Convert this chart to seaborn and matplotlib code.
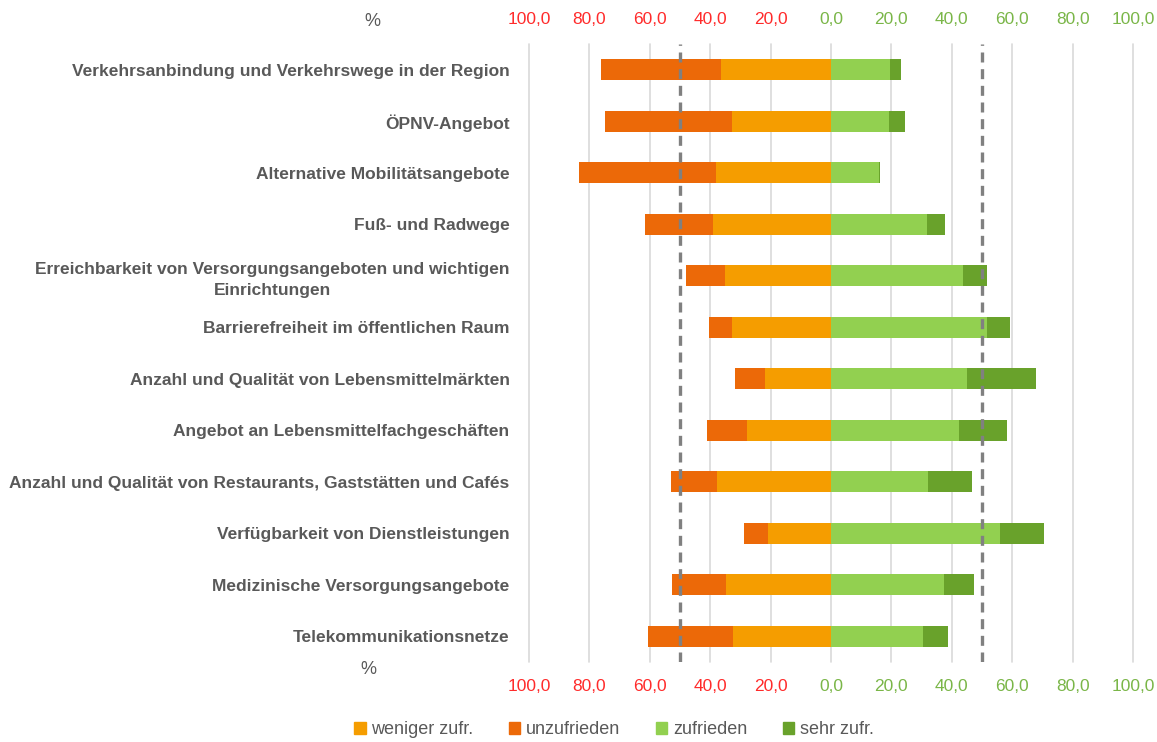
import matplotlib
matplotlib.use("Agg")
import matplotlib.pyplot as plt
import seaborn as sns
import numpy as np
from matplotlib.patches import Patch
from matplotlib.ticker import FixedLocator, FuncFormatter

categories = [
    "Verkehrsanbindung und Verkehrswege in der Region",
    "ÖPNV-Angebot",
    "Alternative Mobilitätsangebote",
    "Fuß- und Radwege",
    "Erreichbarkeit von Versorgungsangeboten und wichtigen\nEinrichtungen",
    "Barrierefreiheit im öffentlichen Raum",
    "Anzahl und Qualität von Lebensmittelmärkten",
    "Angebot an Lebensmittelfachgeschäften",
    "Anzahl und Qualität von Restaurants, Gaststätten und Cafés",
    "Verfügbarkeit von Dienstleistungen",
    "Medizinische Versorgungsangebote",
    "Telekommunikationsnetze",
]
weniger_zufr = [36.5, 32.8, 38.1, 39.0, 35.0, 32.8, 22.0, 27.8, 37.7, 20.9, 34.8, 32.4]
unzufrieden = [39.7, 42.2, 45.2, 22.7, 13.0, 7.7, 9.9, 13.3, 15.4, 7.9, 17.7, 28.1]
zufrieden = [19.6, 19.1, 15.8, 31.9, 43.6, 51.5, 45.1, 42.3, 32.1, 55.9, 37.4, 30.6]
sehr_zufr = [3.6, 5.3, 0.5, 5.7, 7.9, 7.7, 22.8, 16.0, 14.6, 14.7, 9.9, 8.2]
x_ticks = [-100, -80, -60, -40, -20, 0, 20, 40, 60, 80, 100]
ref_lines = [-50, 50]

c_weniger = "#F59D00"
c_unzuf = "#EC6908"
c_zuf = "#92D050"
c_sehr = "#69A22B"
c_text = "#595959"
c_red = "#FF2B2B"
c_green = "#7AB648"

sns.set_theme(style="white")
plt.rcParams["font.family"] = ["Liberation Sans", "DejaVu Sans"]

fig = plt.figure(figsize=(11.57, 7.42), dpi=100)
ax = fig.add_axes([529 / 1157, 1 - 662 / 742, (1133 - 529) / 1157, (662 - 44) / 742])

w = np.array(weniger_zufr)
u = np.array(unzufrieden)
z = np.array(zufrieden)
s = np.array(sehr_zufr)

bw = 0.41
sns.barplot(x=-(w + u), y=categories, order=categories, orient="h", color=c_unzuf,
            saturation=1, width=bw, linewidth=0, ax=ax)
sns.barplot(x=-w, y=categories, order=categories, orient="h", color=c_weniger,
            saturation=1, width=bw, linewidth=0, ax=ax)
sns.barplot(x=z + s, y=categories, order=categories, orient="h", color=c_sehr,
            saturation=1, width=bw, linewidth=0, ax=ax)
sns.barplot(x=z, y=categories, order=categories, orient="h", color=c_zuf,
            saturation=1, width=bw, linewidth=0, ax=ax)

ax.set_xlim(-100, 100)
ax.set_ylim(len(categories) - 0.5, -0.5)
ax.set_xlabel("")
ax.set_ylabel("")
for sp in ax.spines.values():
    sp.set_visible(False)

ax.xaxis.set_major_locator(FixedLocator(x_ticks))
ax.xaxis.set_major_formatter(FuncFormatter(lambda v, p: f"{abs(v):.1f}".replace(".", ",")))
ax.grid(axis="x", color="#D9D9D9", linewidth=1.2)
for gl in ax.get_xgridlines():
    gl.set_clip_on(False)
ax.set_axisbelow(True)
for xv in ref_lines:
    ax.axvline(xv, color="#808080", linestyle=(0, (3, 2)), linewidth=2.4, zorder=5)

ax.tick_params(axis="x", top=True, labeltop=True, bottom=True, labelbottom=True,
               length=0, pad=12, labelsize=12.5)
for t, v in zip(ax.xaxis.get_major_ticks(), x_ticks):
    col = c_red if v < 0 else c_green
    for lab in (t.label1, t.label2):
        lab.set_color(col)

ax.tick_params(axis="y", length=0, pad=14)
ax.set_yticks(range(len(categories)))
ax.set_yticklabels(categories, fontsize=12.5, fontweight="bold", color=c_text)
for lab in ax.get_yticklabels():
    lab.set_multialignment("center")
    lab.set_linespacing(1.45)

fig.text(372 / 1157, 1 - 22 / 742, "%", ha="center", va="center", fontsize=13,
         color=c_text)
fig.text(368 / 1157, 1 - 669 / 742, "%", ha="center", va="center", fontsize=13,
         color=c_text)

handles = [Patch(color=c_weniger, label="weniger zufr."),
           Patch(color=c_unzuf, label="unzufrieden"),
           Patch(color=c_zuf, label="zufrieden"),
           Patch(color=c_sehr, label="sehr zufr.")]
leg = fig.legend(handles=handles, loc="center", bbox_to_anchor=(614 / 1157, 1 - 730 / 742),
                 ncol=4, frameon=False, handlelength=0.62, handleheight=0.62,
                 handletextpad=0.3, columnspacing=2.0,
                 prop={"size": 13})
for txt in leg.get_texts():
    txt.set_color(c_text)

fig.savefig("out.png", dpi=100)
